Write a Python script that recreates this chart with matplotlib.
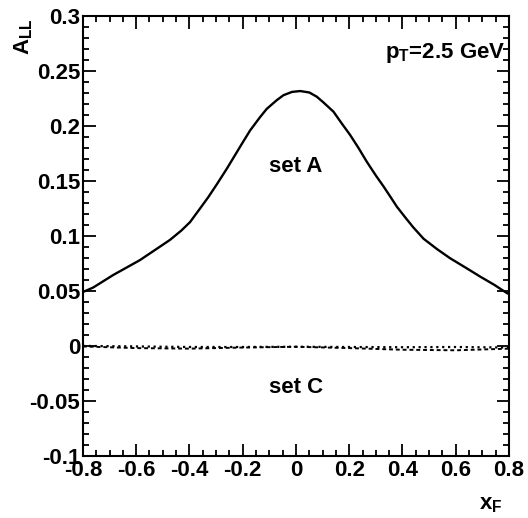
import numpy as np
import matplotlib
matplotlib.use('Agg')
import matplotlib.pyplot as plt
from matplotlib.ticker import MultipleLocator

plt.rcParams['font.family'] = ['Liberation Sans', 'DejaVu Sans']
plt.rcParams['font.weight'] = 'bold'
plt.rcParams['mathtext.fontset'] = 'custom'
plt.rcParams['mathtext.rm'] = 'Liberation Sans:bold'
plt.rcParams['mathtext.it'] = 'Liberation Sans:bold'
plt.rcParams['mathtext.bf'] = 'Liberation Sans:bold'

# set A (solid)
xA = [-0.8, -0.762, -0.686, -0.586, -0.473, -0.43, -0.398, -0.36, -0.33, -0.297, -0.26,
      -0.235, -0.2, -0.172, -0.135, -0.11, -0.072, -0.047, -0.015, 0.016, 0.05, 0.078,
      0.103, 0.141, 0.17, 0.203, 0.235, 0.266, 0.3, 0.329, 0.355, 0.379, 0.41, 0.44,
      0.479, 0.53, 0.579, 0.635, 0.692, 0.745, 0.786, 0.8]
yA = [0.049, 0.053, 0.0645, 0.078, 0.0964, 0.105, 0.1125, 0.125, 0.135, 0.147, 0.161,
      0.171, 0.185, 0.196, 0.208, 0.2155, 0.2235, 0.228, 0.231, 0.2318, 0.2305, 0.2267,
      0.2215, 0.213, 0.203, 0.192, 0.18, 0.1675, 0.155, 0.145, 0.1355, 0.1266, 0.117,
      0.108, 0.0975, 0.088, 0.0797, 0.0715, 0.063, 0.0555, 0.049, 0.047]

# set C (dotted and dashed, close to zero)
xC = [-0.8, -0.6, -0.4, -0.2, 0.0, 0.2, 0.4, 0.6, 0.8]
yC_dot = [0.0, -0.0005, -0.001, -0.001, -0.0008, -0.001, -0.0012, -0.001, -0.0015]
yC_dash = [-0.0005, -0.002, -0.0025, -0.0015, -0.0008, -0.002, -0.0035, -0.004, -0.0025]

fig = plt.figure(figsize=(5.28, 5.18), dpi=100)
ax = fig.add_axes([0.157, 0.12, 0.807, 0.849])

ax.plot(xA, yA, color='black', linewidth=1.7)
ax.plot(xC, yC_dot, color='black', linestyle=':', linewidth=1.6)
ax.plot(xC, yC_dash, color='black', linestyle=(0, (2, 1.5)), linewidth=1.4)

ax.set_xlim(-0.8, 0.8)
ax.set_ylim(-0.1, 0.3)
ax.xaxis.set_minor_locator(MultipleLocator(0.05))
ax.yaxis.set_minor_locator(MultipleLocator(0.01))
ax.set_xticks([-0.8, -0.6, -0.4, -0.2, 0, 0.2, 0.4, 0.6, 0.8])
ax.set_xticklabels(['-0.8', '-0.6', '-0.4', '-0.2', '0', '0.2', '0.4', '0.6', '0.8'])
ax.set_yticks([-0.1, -0.05, 0, 0.05, 0.1, 0.15, 0.2, 0.25, 0.3])
ax.set_yticklabels(['-0.1', '-0.05', '0', '0.05', '0.1', '0.15', '0.2', '0.25', '0.3'])
ax.tick_params(which='both', direction='in', top=True, right=True, labelsize=16, width=1.3)
ax.tick_params(which='major', length=9, pad=2)
ax.tick_params(axis='x', which='major', pad=3)
ax.tick_params(which='minor', length=4.5)
for s in ax.spines.values():
    s.set_linewidth(1.5)

ax.text(0.0, 0.163, 'set A', ha='center', va='center', fontsize=16, fontweight='bold')
ax.text(0.0, -0.038, 'set C', ha='center', va='center', fontsize=16, fontweight='bold')
ax.text(0.785, 0.266, r'p$_\mathrm{T}$=2.5 GeV', ha='right', va='center', fontsize=16, fontweight='bold')

fig.text(0.045, 0.93, r'A$_\mathrm{LL}$', rotation=90, ha='center', va='center', fontsize=16, fontweight='bold')
fig.text(0.93, 0.027, r'x$_\mathrm{F}$', ha='center', va='center', fontsize=16, fontweight='bold')

fig.savefig('out.png', dpi=100)
